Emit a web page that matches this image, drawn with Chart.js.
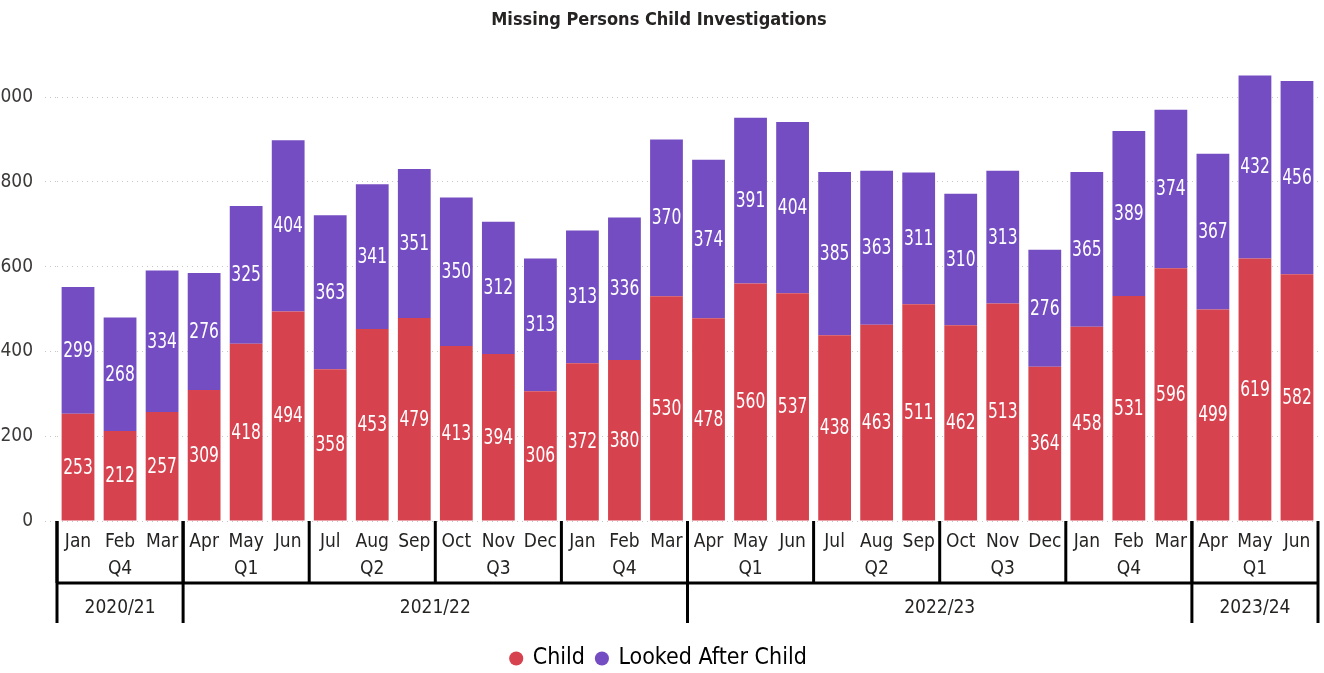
<!DOCTYPE html>
<html>
<head>
<meta charset="utf-8">
<script src="https://cdn.jsdelivr.net/npm/chart.js@4.4.0/dist/chart.umd.min.js"></script>
<style>
  html, body { margin: 0; padding: 0; background: #fff; }
  #wrap { width: 1324px; height: 673px; }
</style>
</head>
<body>
<div id="wrap"><canvas id="chart"></canvas></div>
<script>
const months = ['Jan', 'Feb', 'Mar', 'Apr', 'May', 'Jun', 'Jul', 'Aug', 'Sep', 'Oct', 'Nov', 'Dec',
	'Jan', 'Feb', 'Mar', 'Apr', 'May', 'Jun', 'Jul', 'Aug', 'Sep', 'Oct', 'Nov', 'Dec',
	'Jan', 'Feb', 'Mar', 'Apr', 'May', 'Jun'];
const quarters = ['Q4', 'Q4', 'Q4', 'Q1', 'Q1', 'Q1', 'Q2', 'Q2', 'Q2', 'Q3', 'Q3', 'Q3',
	'Q4', 'Q4', 'Q4', 'Q1', 'Q1', 'Q1', 'Q2', 'Q2', 'Q2', 'Q3', 'Q3', 'Q3',
	'Q4', 'Q4', 'Q4', 'Q1', 'Q1', 'Q1'];
const fiscalYears = ['2020/21', '2020/21', '2020/21',
	'2021/22', '2021/22', '2021/22', '2021/22', '2021/22', '2021/22', '2021/22', '2021/22', '2021/22', '2021/22', '2021/22', '2021/22',
	'2022/23', '2022/23', '2022/23', '2022/23', '2022/23', '2022/23', '2022/23', '2022/23', '2022/23', '2022/23', '2022/23', '2022/23',
	'2023/24', '2023/24', '2023/24'];
const childValues = [253, 212, 257, 309, 418, 494, 358, 453, 479, 413, 394, 306, 372, 380, 530,
	478, 560, 537, 438, 463, 511, 462, 513, 364, 458, 531, 596, 499, 619, 582];
const lookedAfterValues = [299, 268, 334, 276, 325, 404, 363, 341, 351, 350, 312, 313, 313, 336, 370,
	374, 391, 404, 385, 363, 311, 310, 313, 276, 365, 389, 374, 367, 432, 456];
const yTicks = [0, 200, 400, 600, 800, 1000];

const narrow = '"DejaVu Sans Condensed", "DejaVu Sans", sans-serif';
const textColor = '#252423';

// white numbers in the middle of every segment (squeezed a bit, like the original)
const segmentLabels = {
	id: 'segmentLabels',
	afterDatasetsDraw(chart) {
		const ctx = chart.ctx;
		const squeeze = 0.82;
		ctx.save();
		ctx.font = `21px ${narrow}`;
		ctx.fillStyle = '#fff';
		ctx.textAlign = 'center';
		ctx.textBaseline = 'middle';
		ctx.scale(squeeze, 1);
		chart.data.datasets.forEach((ds, i) => {
			chart.getDatasetMeta(i).data.forEach((bar, j) => {
				ctx.fillText(ds.data[j], bar.x / squeeze, (bar.y + bar.base) / 2 + 1);
			});
		});
		ctx.restore();
	},
};

const runs = (keys) => {
	const out = [];
	keys.forEach((k, i) => {
		if (out.length && out[out.length - 1].key === k) out[out.length - 1].end = i;
		else out.push({ key: k, start: i, end: i });
	});
	return out;
};

// quarter / fiscal year rows under the month labels
const hierarchyAxis = {
	id: 'hierarchyAxis',
	afterDraw(chart) {
		const ctx = chart.ctx;
		const x = chart.scales.x;
		const top = chart.chartArea.bottom;
		const step = x.getPixelForValue(1) - x.getPixelForValue(0);
		const edge = (i) => x.getPixelForValue(i) - step / 2;
		const qBottom = top + 62;
		const yBottom = top + 102;

		ctx.save();
		ctx.strokeStyle = '#000';
		ctx.lineWidth = 3;
		ctx.fillStyle = textColor;
		ctx.font = `19px ${narrow}`;
		ctx.textAlign = 'center';
		ctx.textBaseline = 'middle';

		const qRuns = runs(quarters.map((q, i) => fiscalYears[i] + q));
		qRuns.forEach((r) => {
			ctx.beginPath();
			ctx.moveTo(edge(r.start), top);
			ctx.lineTo(edge(r.start), qBottom);
			ctx.stroke();
			ctx.fillText(quarters[r.start], (edge(r.start) + edge(r.end + 1)) / 2, top + 48);
		});

		ctx.beginPath();
		ctx.moveTo(edge(0), qBottom);
		ctx.lineTo(edge(months.length), qBottom);
		ctx.stroke();

		const yRuns = runs(fiscalYears);
		yRuns.forEach((r) => {
			ctx.beginPath();
			ctx.moveTo(edge(r.start), top);
			ctx.lineTo(edge(r.start), yBottom);
			ctx.stroke();
			ctx.fillText(r.key, (edge(r.start) + edge(r.end + 1)) / 2, top + 87);
		});
		ctx.beginPath();
		ctx.moveTo(edge(months.length), top);
		ctx.lineTo(edge(months.length), yBottom);
		ctx.stroke();
		ctx.restore();
	},
};

new Chart(document.getElementById('chart'), {
	type: 'bar',
	data: {
		labels: months,
		datasets: [
			{
				label: 'Child',
				data: childValues,
				backgroundColor: '#D6434F',
				barPercentage: 0.78,
				categoryPercentage: 1,
			},
			{
				label: 'Looked After Child',
				data: lookedAfterValues,
				backgroundColor: '#744DC2',
				barPercentage: 0.78,
				categoryPercentage: 1,
			},
		],
	},
	options: {
		responsive: true,
		maintainAspectRatio: false,
		animation: false,
		layout: { padding: { right: 6, bottom: -7 } },
		plugins: {
			title: {
				display: true,
				text: 'Missing Persons Child Investigations',
				color: textColor,
				font: { family: narrow, size: 18, weight: 'bold' },
				padding: { top: 10, bottom: 40 },
			},
			legend: {
				position: 'bottom',
				labels: {
					usePointStyle: true,
					pointStyle: 'circle',
					boxHeight: 10,
					boxWidth: 10,
					padding: 12,
					color: '#000',
					font: { family: narrow, size: 23 },
				},
			},
			tooltip: { enabled: false },
		},
		scales: {
			x: {
				stacked: true,
				grid: { display: false, drawTicks: false },
				border: { display: false },
				ticks: {
					color: textColor,
					font: { family: narrow, size: 19 },
					padding: 10,
					maxRotation: 0,
					autoSkip: false,
				},
				afterFit: (s) => { s.height = 114; },
			},
			y: {
				stacked: true,
				min: 0,
				max: 1060,
				afterBuildTicks: (s) => { s.ticks = yTicks.map((v) => ({ value: v })); },
				grid: {
					color: '#C8C6C4',
					borderDash: [1, 4],
					drawTicks: true,
					tickLength: 12,
					tickColor: '#C8C6C4',
					tickBorderDash: [1, 4],
				},
				border: { display: false, dash: [1, 4] },
				ticks: {
					color: '#3B3A39',
					font: { family: narrow, size: 19 },
					padding: 12,
				},
				afterFit: (s) => { s.width = 57; },
			},
		},
	},
	plugins: [segmentLabels, hierarchyAxis],
});
</script>
</body>
</html>
